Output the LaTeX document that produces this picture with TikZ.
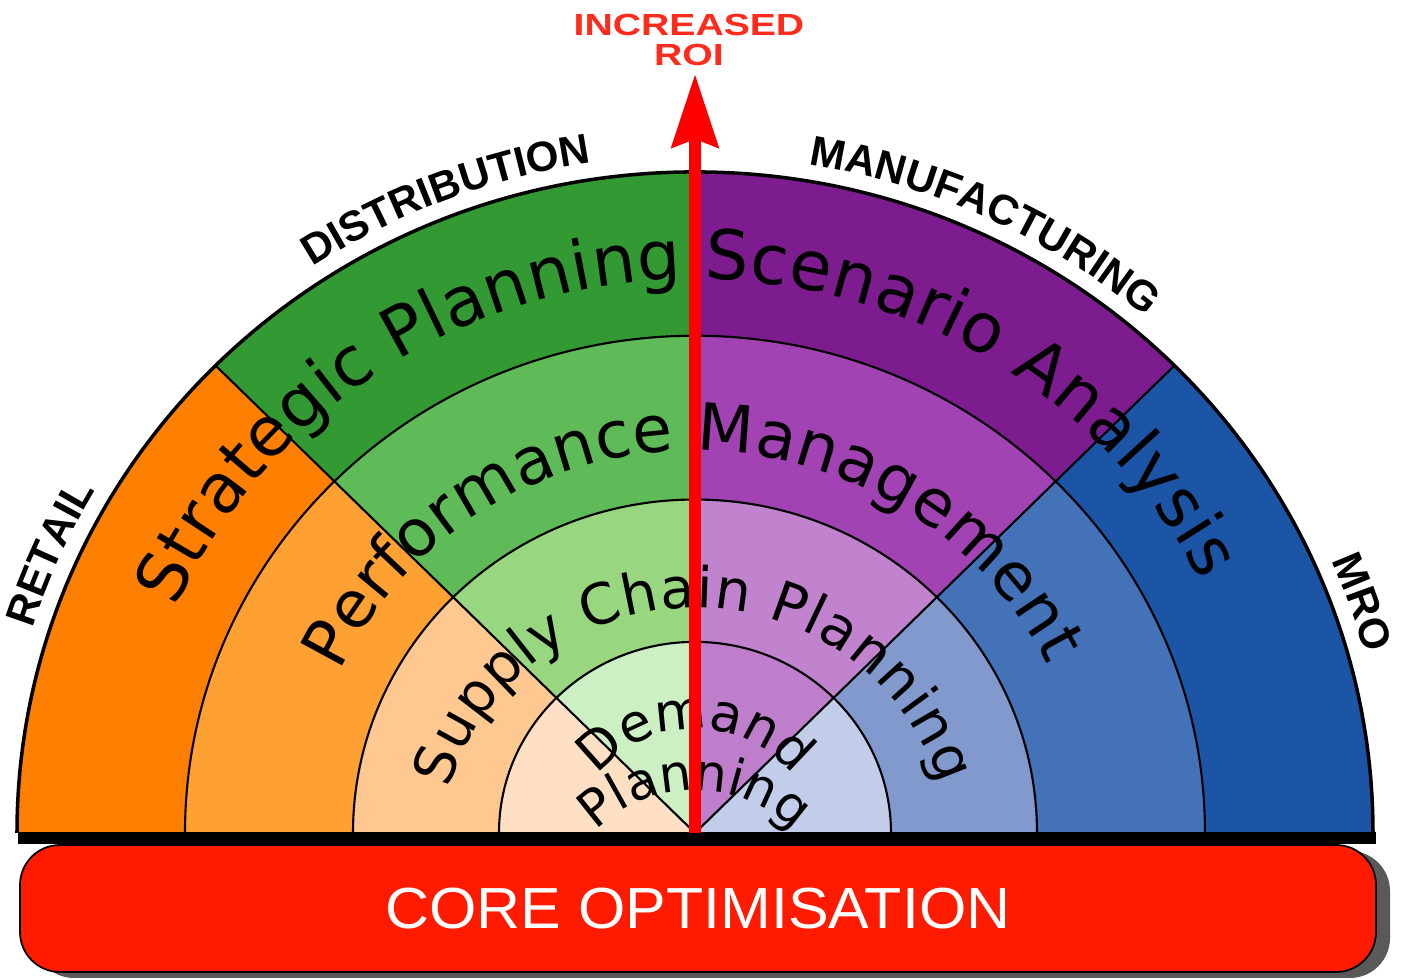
\documentclass[tikz,border=0pt]{standalone}
\usepackage{graphicx}
\usepackage{fontspec}
\setmainfont{DejaVu Sans}
\newfontfamily\arialfam{Liberation Sans}
\usetikzlibrary{arrows.meta,decorations.text,calc,shadows}
\definecolor{ora1}{HTML}{FF8000}
\definecolor{ora2}{HTML}{FFA033}
\definecolor{ora3}{HTML}{FFC890}
\definecolor{ora4}{HTML}{FFE0C4}
\definecolor{grn1}{HTML}{339933}
\definecolor{grn2}{HTML}{5FBB57}
\definecolor{grn3}{HTML}{99D680}
\definecolor{grn4}{HTML}{CCF0C4}
\definecolor{pur1}{HTML}{7C1C8E}
\definecolor{pur2}{HTML}{A143B2}
\definecolor{pur3}{HTML}{C283CE}
\definecolor{pur4}{HTML}{BE7ECB}
\definecolor{blu1}{HTML}{1C55A6}
\definecolor{blu2}{HTML}{4372B8}
\definecolor{blu3}{HTML}{8199CC}
\definecolor{blu4}{HTML}{C2CDEA}
\definecolor{roired}{HTML}{FF2B1C}
\definecolor{corered}{HTML}{FF1A00}
\newcommand\outerfont{\arialfam\bfseries\fontsize{12}{14}\selectfont}
\newcommand\ringfonta{\fontsize{19.5}{22}\selectfont}
\newcommand\ringfontb{\fontsize{18.5}{21}\selectfont}
\newcommand\ringfontc{\fontsize{16}{18}\selectfont}
\newcommand\ringfontd{\fontsize{15}{17}\selectfont}
\newcommand\ringfonte{\fontsize{14.5}{16}\selectfont}
\begin{document}
\begin{tikzpicture}
  [ring line/.style={black,line width=0.6pt},
   rim line/.style={black,line width=1pt},
   ring text/.style={decorate,decoration={text along path,text align=fit to path,text={#1}}},
   inner text/.style={decorate,decoration={text along path,text align=center,text={#1}}},
   outer label/.style={decorate,decoration={text along path,text align=center,text={|\outerfont|#1}}},
   roi arrow/.style={red,line width=1.2mm,-{Stealth[length=7.3mm,width=4.6mm,inset=0.8mm]}},
   roi label/.style={text=roired,font=\arialfam\bfseries\fontsize{8.7}{8.6}\selectfont,align=center,inner sep=0pt,xscale=1.28},
   core bar/.style={draw=black,line width=0.5pt,fill=corered,rounded corners=0.4cm,minimum width=13.56cm,minimum height=1.27cm,inner sep=0pt,text=white,font=\arialfam\fontsize{16.5}{18}\selectfont,
     drop shadow={shadow xshift=0.14cm,shadow yshift=-0.06cm,fill=black!65,opacity=1}}]
  \useasboundingbox (0,0) rectangle (14.13,9.79);
  \coordinate (ctr) at (6.95,1.46);
  \begin{scope}[shift={(ctr)},yscale=0.975]
    \foreach \rad/\k in {6.78/1,5.10/2,3.42/3,1.96/4}
      \foreach \a/\c in {135/ora,90/grn,45/pur,0/blu}
        \fill[\c\k] (0,0) -- (\a:\rad) arc[start angle=\a,delta angle=45,radius=\rad] -- cycle;
    \foreach \rad in {5.10,3.42,1.96}
      \draw[ring line] (\rad,0) arc[start angle=0,end angle=180,radius=\rad];
    \draw[ring line] (0,0) -- (135:6.78) (0,0) -- (45:6.78);
    \draw[rim line] (6.78,0) arc[start angle=0,end angle=180,radius=6.78];

    \path[outer label=RETAIL] (166:6.95) arc[start angle=166,end angle=146,radius=6.95];
    \path[outer label=DISTRIBUTION] (131:6.95) arc[start angle=131,end angle=91,radius=6.95];
    \path[outer label=MANUFACTURING] (90:6.95) arc[start angle=90,end angle=40,radius=6.95];
    \path[outer label=MRO] (30:6.95) arc[start angle=30,end angle=9,radius=6.95];

    \path[ring text={|\ringfonta|Strategic Planning Scenario Analysis}] (156:5.68) arc[start angle=156,end angle=27,radius=5.68];
    \path[ring text={|\ringfontb|Performance Management}] (155:3.92) arc[start angle=155,end angle=26,radius=3.92];
    \path[ring text={|\ringfontc|Supply Chain Planning}] ($(0,-0.25)+(164:2.56)$) arc[start angle=164,end angle=17,radius=2.56];
    \path[inner text={|\ringfontd|Demand}] ($(0,-0.175)+(150:1.24)$) arc[start angle=150,end angle=30,radius=1.24];
    \path[inner text={|\ringfonte|Planning}] ($(0,-0.94)+(140:1.38)$) arc[start angle=140,end angle=40,radius=1.38];
  \end{scope}
  \fill[black] (0.18,1.35) rectangle (13.76,1.47);
  \node[core bar] (core) at (6.98,0.705) {\scalebox{1.05}[1]{CORE OPTIMISATION}};
  \coordinate (roitip) at (6.95,9.05);
  \draw[roi arrow] (ctr) -- (roitip);
  \node[roi label,anchor=north] (roi) at (6.89,9.66) {INCREASED\\ROI};
\end{tikzpicture}
\end{document}
